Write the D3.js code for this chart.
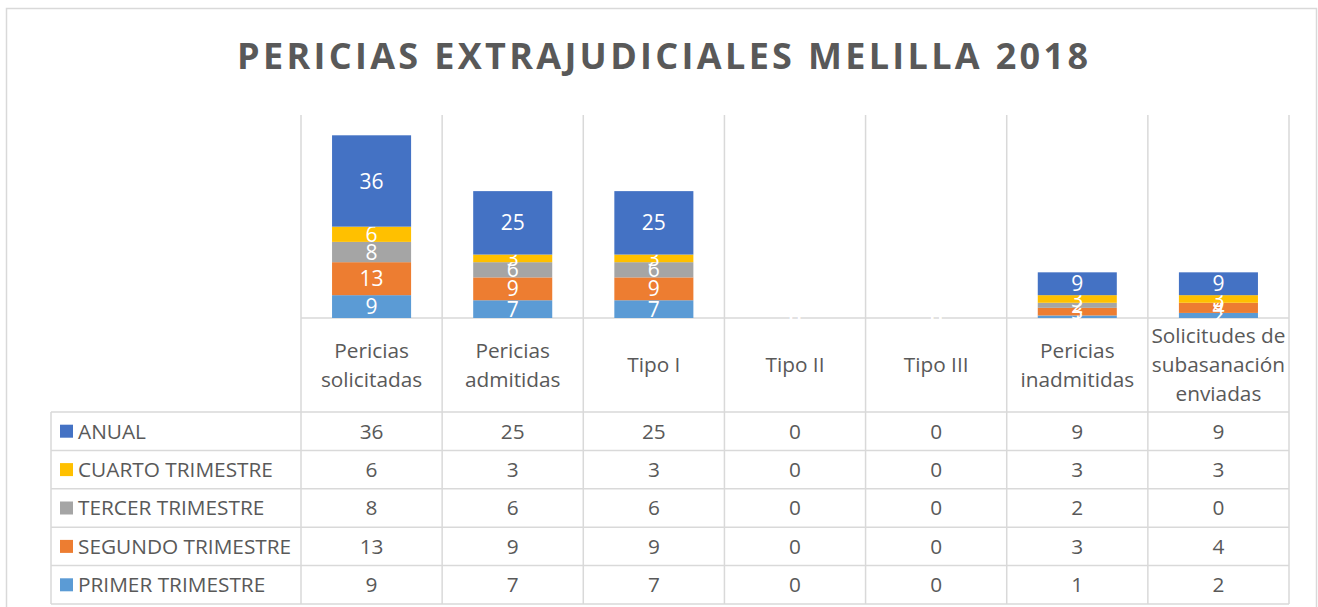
<!DOCTYPE html>
<html>
<head>
<meta charset="utf-8">
<script src="https://cdn.jsdelivr.net/npm/d3@7"></script>
<style>
  body { margin: 0; background: #fff; }
  text { font-family: "Open Sans", "Noto Sans", sans-serif; }
</style>
</head>
<body>
<div id="chart"></div>
<script>
var categories = ["Pericias solicitadas", "Pericias admitidas", "Tipo I", "Tipo II",
                  "Tipo III", "Pericias inadmitidas", "Solicitudes de subasanación enviadas"];

// stack order: bottom -> top
var seriesNames = ["PRIMER TRIMESTRE", "SEGUNDO TRIMESTRE", "TERCER TRIMESTRE", "CUARTO TRIMESTRE", "ANUAL"];
var primer   = [9, 7, 7, 0, 0, 1, 2];
var segundo  = [13, 9, 9, 0, 0, 3, 4];
var tercer   = [8, 6, 6, 0, 0, 2, 0];
var cuarto   = [6, 3, 3, 0, 0, 3, 3];
var anual    = [36, 25, 25, 0, 0, 9, 9];
var seriesValues = [primer, segundo, tercer, cuarto, anual];
var seriesColors = ["#5B9BD5", "#ED7D31", "#A5A5A5", "#FFC000", "#4472C4"];

var yMax = 80;
var title = "PERICIAS EXTRAJUDICIALES MELILLA 2018";

var W = 1318, H = 607;
var plot = {left: 301, right: 1289, top: 115, bottom: 318};
var tableLeft = 51, headerBottom = 412, tableBottom = 604;
var gridColor = "#D9D9D9", textColor = "#595959";
var fs = "20.8px";

var svg = d3.select("#chart").append("svg")
  .attr("width", W)
  .attr("height", H);

// chart area border
svg.append("rect")
  .attr("x", 6.5).attr("y", 8.5)
  .attr("width", 1310).attr("height", 620)
  .attr("fill", "#fff")
  .attr("stroke", gridColor)
  .attr("stroke-width", 1.5);

svg.append("text")
  .attr("x", 237)
  .attr("y", 69)
  .attr("textLength", 851)
  .attr("lengthAdjust", "spacing")
  .style("font-size", "36px")
  .style("font-weight", "bold")
  .style("fill", textColor)
  .text(title);

var x = d3.scaleBand()
  .domain(categories)
  .range([plot.left, plot.right])
  .paddingInner(0.44)
  .paddingOuter(0.22);

var y = d3.scaleLinear()
  .domain([0, yMax])
  .range([plot.bottom, plot.top]);

var step = x.step();

// table rows: top row is last series
var rowNames = seriesNames.slice().reverse();
var rowH = (tableBottom - headerBottom) / rowNames.length;
var row = d3.scaleBand()
  .domain(rowNames)
  .range([headerBottom, tableBottom]);

// grid / table lines
var grid = svg.append("g")
  .attr("stroke", gridColor)
  .attr("stroke-width", 1.5);

var bounds = categories.map(function(c) { return x(c) - (step - x.bandwidth()) / 2; });
bounds.push(plot.right);
bounds.forEach(function(bx) {
  grid.append("line")
    .attr("x1", bx).attr("x2", bx)
    .attr("y1", plot.top).attr("y2", tableBottom);
});
grid.append("line")
  .attr("x1", tableLeft).attr("x2", tableLeft)
  .attr("y1", headerBottom).attr("y2", tableBottom);
grid.append("line")
  .attr("x1", plot.left).attr("x2", plot.right)
  .attr("y1", plot.bottom).attr("y2", plot.bottom);
rowNames.forEach(function(r) {
  grid.append("line")
    .attr("x1", tableLeft).attr("x2", plot.right)
    .attr("y1", row(r)).attr("y2", row(r));
});
grid.append("line")
  .attr("x1", tableLeft).attr("x2", plot.right)
  .attr("y1", tableBottom).attr("y2", tableBottom);

// stacked bars
var data = categories.map(function(c, i) {
  var d = {cat: c};
  seriesNames.forEach(function(s, j) { d[s] = seriesValues[j][i]; });
  return d;
});
var stacked = d3.stack().keys(seriesNames)(data);

var layers = svg.selectAll(".layer")
  .data(stacked)
  .enter().append("g")
  .attr("class", "layer")
  .attr("fill", function(d, i) { return seriesColors[i]; });

layers.selectAll("rect")
  .data(function(d) { return d; })
  .enter().append("rect")
  .attr("x", function(d) { return x(d.data.cat); })
  .attr("width", x.bandwidth())
  .attr("y", function(d) { return y(d[1]); })
  .attr("height", function(d) { return y(d[0]) - y(d[1]); });

layers.selectAll("text")
  .data(function(d) { return d; })
  .enter().append("text")
  .attr("x", function(d) { return x(d.data.cat) + x.bandwidth() / 2; })
  .attr("y", function(d) { return (y(d[0]) + y(d[1])) / 2; })
  .attr("dy", "0.36em")
  .attr("text-anchor", "middle")
  .style("font-size", "21px")
  .style("fill", "#fff")
  .text(function(d) { return d[1] - d[0]; });

// category labels with wrapping
var lineH = 29;
var headerMid = (plot.bottom + headerBottom) / 2;
function wrapLines(str, maxW) {
  var tmp = svg.append("text").style("font-size", fs);
  var words = str.split(" "), lines = [], cur = "";
  words.forEach(function(w) {
    var test = cur ? cur + " " + w : w;
    tmp.text(test);
    if (tmp.node().getComputedTextLength() > maxW && cur) {
      lines.push(cur);
      cur = w;
    } else {
      cur = test;
    }
  });
  lines.push(cur);
  tmp.remove();
  return lines;
}
categories.forEach(function(c) {
  var lines = wrapLines(c, step - 2);
  var t = svg.append("text")
    .attr("text-anchor", "middle")
    .style("font-size", fs)
    .style("fill", textColor);
  lines.forEach(function(l, i) {
    t.append("tspan")
      .attr("x", x(c) + x.bandwidth() / 2)
      .attr("y", headerMid + (i - (lines.length - 1) / 2) * lineH)
      .attr("dy", "0.36em")
      .text(l);
  });
});

// legend column + values
rowNames.forEach(function(r) {
  var j = seriesNames.indexOf(r);
  var cy = row(r) + rowH / 2;
  svg.append("rect")
    .attr("x", 60).attr("y", cy - 6.5)
    .attr("width", 13).attr("height", 13)
    .attr("fill", seriesColors[j]);
  svg.append("text")
    .attr("x", 78).attr("y", cy)
    .attr("dy", "0.36em")
    .style("font-size", fs)
    .style("fill", textColor)
    .text(r);
  categories.forEach(function(c, i) {
    svg.append("text")
      .attr("x", x(c) + x.bandwidth() / 2)
      .attr("y", cy)
      .attr("dy", "0.36em")
      .attr("text-anchor", "middle")
      .style("font-size", fs)
      .style("fill", textColor)
      .text(seriesValues[j][i]);
  });
});
</script>
</body>
</html>
